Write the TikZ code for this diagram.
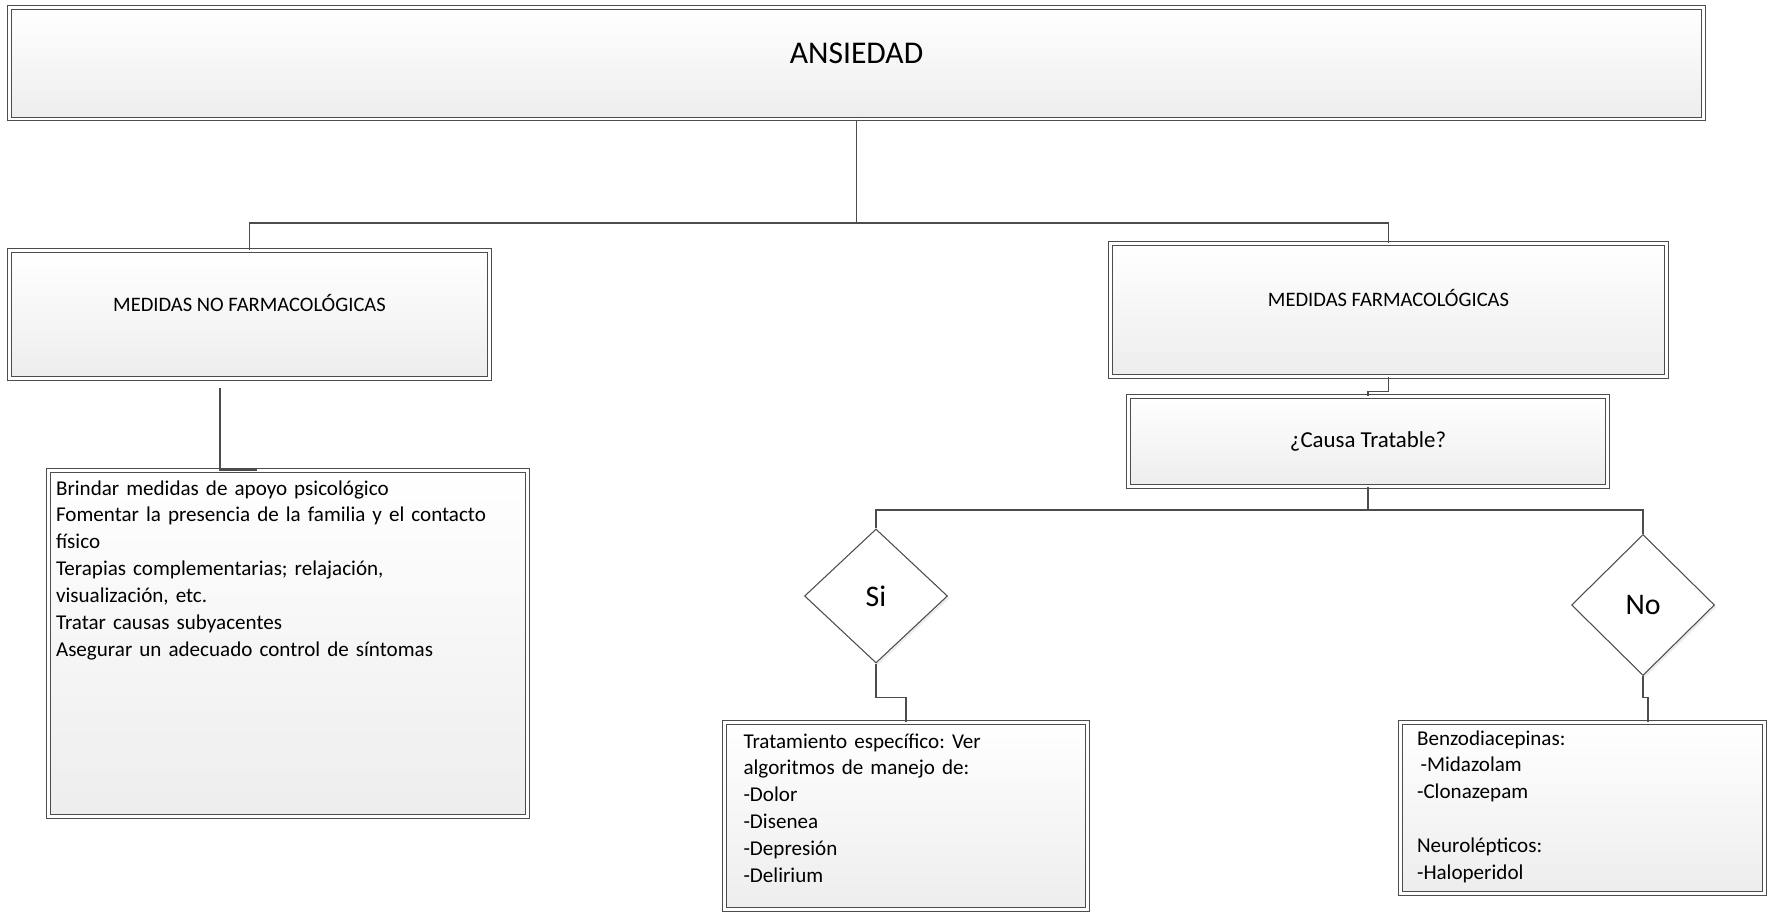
\documentclass[tikz,border=0pt]{standalone}
\usepackage{fontspec}
\setmainfont{Carlito}
\frenchspacing
\usetikzlibrary{positioning}
\usetikzlibrary{shapes.geometric}
\usetikzlibrary{shadows}
\definecolor{mgray}{rgb}{0.3, 0.3, 0.3}
\definecolor{mlight}{rgb}{0.93, 0.93, 0.93}
\tikzset{box/.style = {draw = mgray, double, line width = 0.6, double distance = 1.6,
    top color = white, bottom color = mlight, inner sep = 0,
    drop shadow = {shadow xshift = 1.2pt, shadow yshift = -1.2pt, opacity = 0.15}}}
\tikzset{listbox/.style = {box, align = left, inner ysep = 0.08cm,
    font = \fontsize{12}{15.3}\selectfont}}
\tikzset{choice/.style = {diamond, draw = mgray, fill = white, line width = 0.6, inner sep = 0,
    minimum width = 2.86cm, font = \fontsize{17}{20}\selectfont,
    drop shadow = {shadow xshift = 1.2pt, shadow yshift = -1.2pt, opacity = 0.15}}}
\tikzset{conn/.style = {draw = mgray, line width = 0.6}}

\begin{document}
\begin{tikzpicture}[x = 0.02cm, y = -0.02cm]
      \useasboundingbox (0, 0) rectangle (1777, 915);

      \node [box, minimum width = 33.88cm, minimum height = 2.23cm, text depth = 0.4cm,
        font = \fontsize{18}{21}\selectfont] (ans) at (856.5, 63.25) {ANSIEDAD};
      \node [box, minimum width = 9.6cm, minimum height = 2.56cm, text depth = 0.48cm,
        font = \fontsize{11.7}{14}\selectfont] (nofarm) at (249.5, 314.5) {MEDIDAS NO FARMACOLÓGICAS};
      \node [box, minimum width = 11.12cm, minimum height = 2.66cm, text depth = 0.48cm,
        font = \fontsize{11.7}{14}\selectfont] (farm) at (1388.5, 310) {MEDIDAS FARMACOLÓGICAS};
      \node [box, minimum width = 9.58cm, minimum height = 1.8cm,
        font = \fontsize{13}{16}\selectfont] (causa) at (1368, 441.5) {¿Causa Tratable?};

      \node [listbox, inner xsep = 0.15cm, text width = 9.28cm, text height = 0.41cm,
        text depth = 6.35cm] (lista) at (288, 643.5) {Brindar medidas de apoyo psicológico\\
        Fomentar la presencia de la familia y el contacto\\
        físico\\
        Terapias complementarias; relajación,\\
        visualización, etc.\\
        Tratar causas subyacentes\\
        Asegurar un adecuado control de síntomas};

      \node [choice, minimum height = 2.68cm] (si) at (876, 596) {Si};
      \node [choice, minimum height = 2.82cm] (no) at (1643, 605) {No};

      \node [listbox, inner xsep = 0.38cm, text width = 6.5cm, text height = 0.43cm,
        text depth = 3.15cm] (trat) at (906, 816) {Tratamiento específico: Ver\\
        algoritmos de manejo de:\\
        -Dolor\\
        -Disenea\\
        -Depresión\\
        -Delirium};
      \node [listbox, inner xsep = 0.33cm, text width = 6.62cm, text height = 0.37cm,
        text depth = 2.89cm] (benzo) at (1582.5, 808) {Benzodiacepinas:\\
        \hspace{2pt}-Midazolam\\
        -Clonazepam\\[15.3pt]
        Neurolépticos:\\
        -Haloperidol};

      % connectors
      \coordinate (j1) at (ans.south |- 0, 223);
      \coordinate (j2) at (causa.south |- 0, 510);
      \draw [conn] (ans.south) -- (j1);
      \draw [conn] (nofarm.north) |- (j1) -| (farm.north);
      \draw [conn] ([shift = {(-29.5, 9)}]nofarm.south) -- ([shift = {(-68, 0)}]lista.north)
        -- ([shift = {(-31, 0)}]lista.north);
      \draw [conn] (farm.south) -- ++(0, 14.5) -| (causa.north);
      \draw [conn] (causa.south) -- (j2);
      \draw [conn] (si.north) |- (j2) -| (no.north);
      \draw [conn] (si.south) -- ++(0, 34) -| (trat.north);
      \draw [conn] (no.south) -- ++(0, 21.5) -| ([shift = {(65.5, 0)}]benzo.north);

    \end{tikzpicture}
\end{document}
